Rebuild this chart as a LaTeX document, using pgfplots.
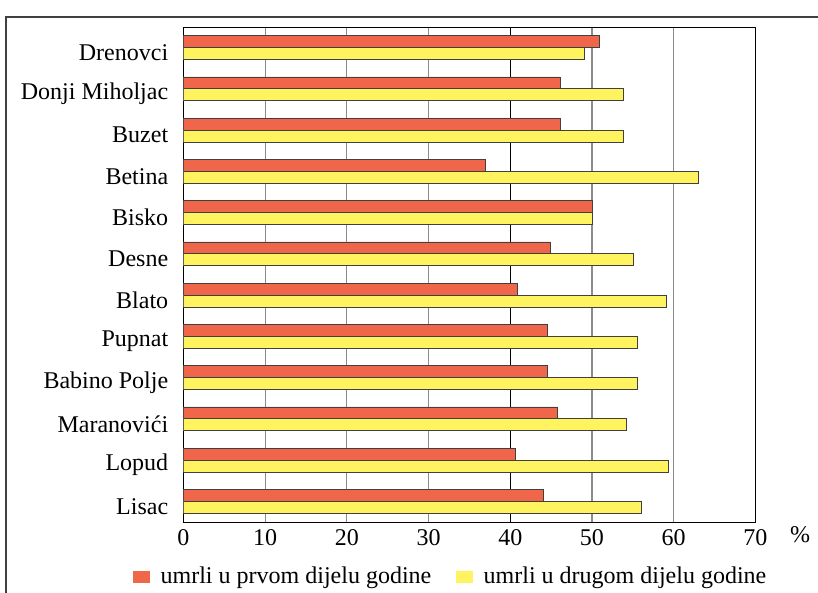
\documentclass[border=0pt]{standalone}
\usepackage{pgfplots}
\pgfplotsset{compat=1.18}
\usepackage{fontspec}
\setmainfont{Liberation Serif}
\definecolor{redbar}{RGB}{240,102,74}
\definecolor{yelbar}{RGB}{255,243,95}
\begin{document}
\fontsize{24bp}{28bp}\selectfont
\begin{tikzpicture}[x=1bp,y=1bp]
\begin{axis}[
  at={(183.4bp,71bp)}, anchor=south west,
  width=572bp, height=495bp, scale only axis,
  xbar, xmin=0, xmax=70, ymin=-0.5, ymax=11.5, y dir=reverse,
  xtick={0,10,...,70},
  extra x ticks={40}, extra x tick labels={},
  extra x tick style={grid style={black, line width=1bp}},
  ytick={0,...,11},
  yticklabels={Drenovci,Donji Miholjac,Buzet,Betina,Bisko,Desne,Blato,Pupnat,Babino Polje,Maranovići,Lopud,Lisac},
  major tick length=0pt,
  xmajorgrids, grid style={gray!90, line width=1.2bp},
  axis line style={black, line width=1bp},
  /pgf/number format/assume math mode=true,
  tick label style={font=\fontsize{24bp}{28bp}\selectfont},
  yticklabel style={xshift=-7bp, yshift=-5bp},
  xticklabel style={yshift=1bp},
  bar width=0.29,
  legend columns=2,
  legend style={draw=none, fill=none, inner sep=0pt, at={(-0.088,-0.111)}, anchor=west,
    font=\fontsize{24bp}{28bp}\selectfont,
    nodes={inner sep=0pt},
    /tikz/every even column/.append style={column sep=25bp}},
  legend image code/.code={\fill[#1,draw=none] (0bp,-6bp) rectangle (17bp,6bp); \path (27bp,0bp);},
]
\addplot[draw=black!75, line width=0.8bp, fill=redbar, bar shift=-0.145] coordinates {
 (50.9,0) (46.1,1) (46.1,2) (37.0,3) (50.0,4) (44.9,5) (40.9,6) (44.5,7) (44.5,8) (45.8,9) (40.6,10) (44.1,11)};
\addlegendentry{umrli u prvom dijelu godine}
\addplot[draw=black!75, line width=0.8bp, fill=yelbar, bar shift=0.145] coordinates {
 (49.1,0) (53.8,1) (53.9,2) (63.0,3) (50.0,4) (55.1,5) (59.1,6) (55.6,7) (55.6,8) (54.2,9) (59.4,10) (56.0,11)};
\addlegendentry{umrli u drugom dijelu godine}
\end{axis}
\node[anchor=base] at (800bp,50bp) {\%};
\draw[black!75, line width=1.3bp] (6bp,-20bp) -- (6bp,576bp) -- (840bp,576bp);
\pgfresetboundingbox
\path[use as bounding box] (0bp,0bp) rectangle (818bp,593bp);
\end{tikzpicture}
\end{document}
